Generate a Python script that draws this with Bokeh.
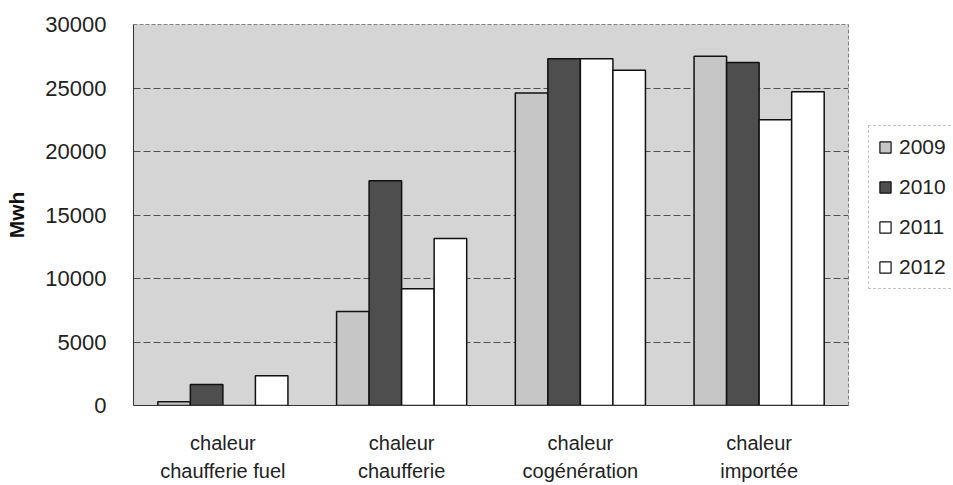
from bokeh.plotting import figure
from bokeh.layouts import row
from bokeh.models import ColumnDataSource, FactorRange, Range1d, FixedTicker, Legend, LegendItem
from bokeh.transform import dodge
from bokeh.embed import file_html
from bokeh.resources import INLINE

categories = ["chaleur\nchaufferie fuel", "chaleur\nchaufferie", "chaleur\ncogénération", "chaleur\nimportée"]
years = ["2009", "2010", "2011", "2012"]
v2009 = [300, 7400, 24600, 27500]
v2010 = [1650, 17700, 27300, 27000]
v2011 = [0, 9200, 27300, 22500]
v2012 = [2350, 13150, 26400, 24700]
y_ticks = [0, 5000, 10000, 15000, 20000, 25000, 30000]

colors = ["#c6c6c6", "#4e4e4e", "#ffffff", "#ffffff"]

source = ColumnDataSource(dict(cat=categories, y2009=v2009, y2010=v2010, y2011=v2011, y2012=v2012))

p = figure(width=849, height=485, x_range=FactorRange(*categories), y_range=Range1d(0, 30000),
           output_backend="svg", toolbar_location=None,
           min_border_left=133, min_border_right=1, min_border_top=24, min_border_bottom=80)

p.background_fill_color = "#d5d5d5"
p.border_fill_color = "white"
p.outline_line_color = "#808080"
p.outline_line_dash = "4 2"

bw = 0.182
offsets = [-1.5 * bw, -0.5 * bw, 0.5 * bw, 1.5 * bw]
for yr, off, col in zip(years, offsets, colors):
    p.vbar(x=dodge("cat", off, range=p.x_range), top="y" + yr, width=bw, source=source,
           fill_color=col, line_color="#111111", line_width=1.5)

p.xgrid.visible = False
p.ygrid.grid_line_color = "#505050"
p.ygrid.grid_line_dash = "7 3"
p.ygrid.grid_line_width = 1.2

p.yaxis.ticker = FixedTicker(ticks=y_ticks)
p.yaxis.major_tick_line_color = None
p.yaxis.minor_tick_line_color = None
p.yaxis.major_label_standoff = 21
p.yaxis.major_label_text_font = "Liberation Sans"
p.yaxis.major_label_text_font_size = "22px"
p.yaxis.major_label_text_color = "#222222"
p.yaxis.axis_line_color = "#333333"
p.yaxis.axis_label = "Mwh"
p.yaxis.axis_label_text_font = "Liberation Sans"
p.yaxis.axis_label_text_font_style = "bold"
p.yaxis.axis_label_text_font_size = "21px"
p.yaxis.axis_label_text_color = "#111111"
p.yaxis.axis_label_standoff = 14

p.xaxis.major_tick_line_color = None
p.xaxis.minor_tick_line_color = None
p.xaxis.axis_line_color = "#333333"
p.xaxis.major_label_standoff = 20
p.xaxis.major_label_text_font = "Liberation Sans"
p.xaxis.major_label_text_font_size = "20px"
p.xaxis.major_label_text_color = "#222222"
p.xaxis.major_label_text_line_height = 1.3

# legend panel (separate small figure to the right of the plot)
pl = figure(width=104, height=485, x_range=Range1d(0, 1), y_range=Range1d(0, 1),
            output_backend="svg", toolbar_location=None,
            x_axis_location=None, y_axis_location=None,
            min_border_left=0, min_border_right=0, min_border_top=0, min_border_bottom=0)
pl.xgrid.visible = False
pl.ygrid.visible = False
pl.outline_line_color = None
pl.background_fill_color = "white"
pl.border_fill_color = "white"
leg_renderers = []
for col in colors:
    # legend proxy: a zero-height bar placed outside the visible range
    r = pl.vbar(x=[2], top=[0], width=0.1, fill_color=col, line_color="#111111", line_width=1.2)
    leg_renderers.append(r)

legend = Legend(items=[LegendItem(label=yr, renderers=[r]) for yr, r in zip(years, leg_renderers)],
                location=(19, 116), margin=0, padding=9, spacing=16,
                glyph_width=14, glyph_height=14, label_standoff=7, label_height=21,
                label_text_font="Liberation Sans", label_text_font_size="21px",
                label_text_color="#222222",
                border_line_color="#888888", border_line_dash="3 3",
                background_fill_color="white", background_fill_alpha=1.0)
pl.add_layout(legend)

layout = row(p, pl, spacing=0)
open("out.html", "w").write(file_html(layout, INLINE))
